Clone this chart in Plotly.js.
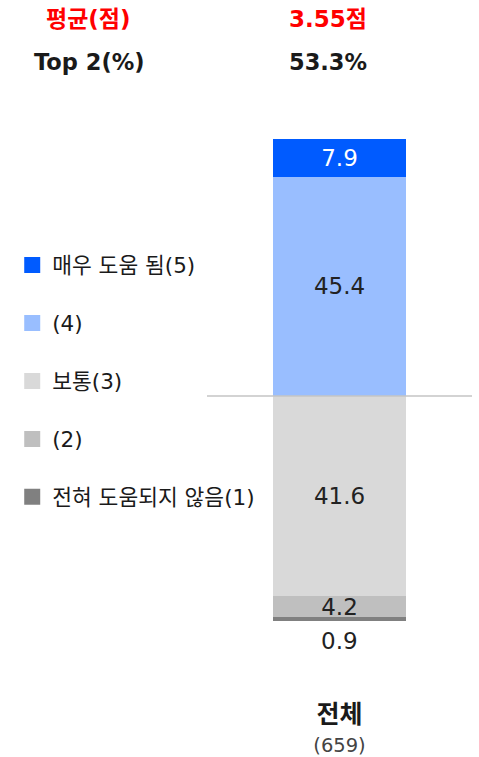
<!DOCTYPE html>
<html>
<head>
<meta charset="utf-8">
<script src="https://cdn.plot.ly/plotly-3.0.1.min.js"></script>
<style>html,body{margin:0;padding:0;background:#fff;}#chart{width:479px;height:757px;}</style>
</head>
<body>
<div id="chart"></div>
<script>
// ---- data ----
const categories = ['전체'];
const sampleSizes = ['(659)'];
const seriesNames = ['전혀 도움되지 않음(1)', '(2)', '보통(3)', '(4)', '매우 도움 됨(5)'];
const seriesValues = [[0.9], [4.2], [41.6], [45.4], [7.9]];
const seriesColors = ['#808080', '#BFBFBF', '#D9D9D9', '#99BEFF', '#005BFF'];
const seriesTextColors = ['#222222', '#222222', '#222222', '#222222', '#FFFFFF'];
const meanLabel = '평균(점)';
const meanValues = ['3.55점'];
const top2Label = 'Top 2(%)';
const top2Values = ['53.3%'];

const FONT = '"DejaVu Sans", "Noto Sans CJK KR", sans-serif';

// stacked bars (legend drawn by marker traces below)
const barTraces = seriesNames.map((name, i) => ({
  type: 'bar',
  name: name,
  x: categories,
  y: seriesValues[i],
  marker: {color: seriesColors[i], line: {width: 0}},
  text: i === 0 ? null : seriesValues[i].map(v => v.toFixed(1)),
  textposition: i === 0 ? 'none' : 'inside',
  insidetextanchor: 'middle',
  constraintext: 'none',
  textfont: {family: FONT, size: 23, color: seriesTextColors[i]},
  width: 0.5,
  showlegend: false,
  hoverinfo: 'skip'
}));

// legend entries (square swatches), top = highest score
const legendTraces = seriesNames.map((name, i) => ({
  type: 'scatter',
  mode: 'markers',
  name: name,
  x: [null],
  y: [null],
  marker: {symbol: 'square', size: 16, color: seriesColors[i]},
  legendgroup: 'g' + i,
  legendrank: 1000 - i,
  showlegend: true,
  hoverinfo: 'skip'
}));

// boundary between Top2 and the rest
const lowerSum = seriesValues[0][0] + seriesValues[1][0] + seriesValues[2][0];

const annotations = [
  {xref: 'paper', yref: 'paper', x: -0.447, y: 1.249, text: '<b>' + meanLabel + '</b>', showarrow: false,
   font: {family: FONT, size: 23, color: '#FF0000'}, xanchor: 'center', yanchor: 'middle'},
  {xref: 'paper', yref: 'paper', x: 0.458, y: 1.249, text: '<b>' + meanValues[0] + '</b>', showarrow: false,
   font: {family: FONT, size: 23, color: '#FF0000'}, xanchor: 'center', yanchor: 'middle'},
  {xref: 'paper', yref: 'paper', x: -0.443, y: 1.160, text: '<b>' + top2Label + '</b>', showarrow: false,
   font: {family: FONT, size: 22.5, color: '#1a1a1a'}, xanchor: 'center', yanchor: 'middle'},
  {xref: 'paper', yref: 'paper', x: 0.457, y: 1.160, text: '<b>' + top2Values[0] + '</b>', showarrow: false,
   font: {family: FONT, size: 22.5, color: '#1a1a1a'}, xanchor: 'center', yanchor: 'middle'},
  // label for smallest segment, below the bar
  {x: categories[0], y: 0, yref: 'y', text: seriesValues[0][0].toFixed(1), showarrow: false,
   yanchor: 'top', yshift: -5, font: {family: FONT, size: 23, color: '#222222'}}
];

const layout = {
  width: 479, height: 757,
  margin: {l: 207, r: 7, t: 139, b: 136, pad: 0},
  paper_bgcolor: '#fff', plot_bgcolor: '#fff',
  barmode: 'stack',
  bargap: 0,
  showlegend: true,
  legend: {
    x: -0.735, xanchor: 'left', y: 0.781, yanchor: 'top',
    traceorder: 'grouped', tracegroupgap: 27,
    font: {family: FONT, size: 21.5, color: '#1a1a1a'},
    bgcolor: 'rgba(0,0,0,0)', itemclick: false
  },
  xaxis: {
    type: 'category', range: [-0.5, 0.5], fixedrange: true,
    showgrid: false, zeroline: false, showline: false, ticks: '',
    tickvals: categories,
    ticktext: categories.map((c, i) => '<b><span style="font-size:25px">' + c + '</span></b><br><span style="font-size:19.5px;color:#444">' + sampleSizes[i] + '</span>'),
    tickfont: {family: FONT, size: 22, color: '#1a1a1a'},
    ticklabelstandoff: 79
  },
  yaxis: {range: [0, 100], visible: false, fixedrange: true},
  shapes: [
    {type: 'line', xref: 'paper', yref: 'y', x0: 0, x1: 1, y0: lowerSum, y1: lowerSum,
     line: {color: '#C4C4C4', width: 1.5}, layer: 'above'}
  ],
  annotations: annotations,
  font: {family: FONT}
};

Plotly.newPlot('chart', barTraces.concat(legendTraces), layout, {displayModeBar: false, staticPlot: true});
</script>
</body>
</html>
